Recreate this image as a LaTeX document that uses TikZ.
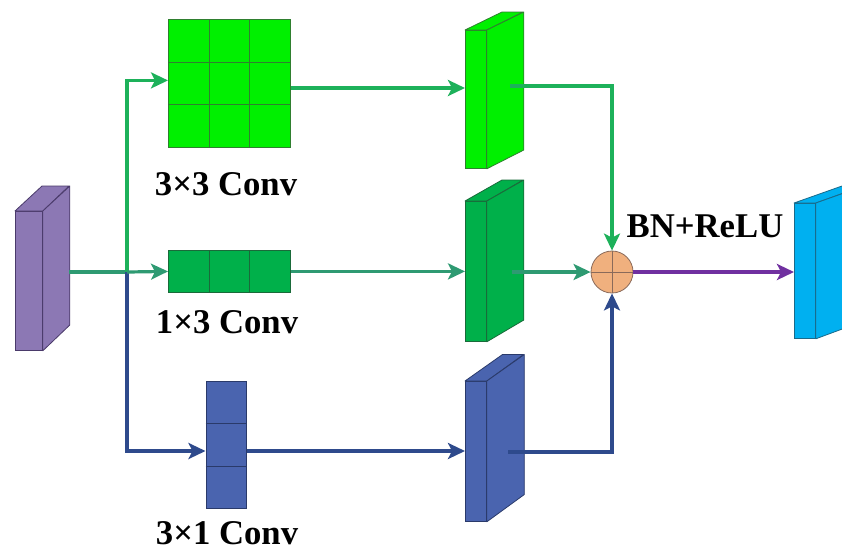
\documentclass[tikz,border=0pt]{standalone}
\usepackage{fontspec}
\setmainfont{Liberation Serif}
\usetikzlibrary{arrows.meta,calc}
\definecolor{cpurple}{HTML}{8C78B4}
\definecolor{cpurpleE}{HTML}{4A3A6A}
\definecolor{cgreenA}{HTML}{00F000}
\definecolor{cgreenAE}{HTML}{2F7F2F}
\definecolor{cgreenB}{HTML}{00B04A}
\definecolor{cgreenBE}{HTML}{1A6A3A}
\definecolor{cblue}{HTML}{4A64AF}
\definecolor{cblueE}{HTML}{2A3A6A}
\definecolor{csky}{HTML}{00B0F0}
\definecolor{cskyE}{HTML}{1A6A8A}
\definecolor{csum}{HTML}{F0B07E}
\definecolor{csumE}{HTML}{8A6A5A}
\definecolor{lteal}{HTML}{2E9A72}
\definecolor{lgreen}{HTML}{1DB15A}
\definecolor{lblue}{HTML}{2E4A8C}
\definecolor{lpurple}{HTML}{7030A0}
\newcommand\fblock[9]{%
  \node[fill=#8, draw=#9, line width=0.8pt, inner sep=0pt, minimum width=#4pt, minimum height=#5pt, anchor=north west] (#1) at (#2,#3) {};
  \filldraw[fill=#8, draw=#9, line width=0.8pt, line join=round] (#1.north west) -- ++(#6,#7) -- ++(#4,0) -- (#1.north east) -- cycle;
  \filldraw[fill=#8, draw=#9, line width=0.8pt, line join=round] (#1.north east) -- ++(#6,#7) -- ++(0,#5) -- (#1.south east) -- cycle;
}
\tikzset{
  conn/.style={line width=3.2pt, -{Stealth[length=17pt,width=16pt,inset=4pt]}},
  plain/.style={line width=3.2pt},
  lbl/.style={font=\fontsize{34.7}{40}\selectfont\bfseries, inner sep=0pt, anchor=base},
  kernel/.style={draw=#1, line width=0.8pt, inner sep=0pt, anchor=north west},
}
\begin{document}
\begin{tikzpicture}[x=1pt,y=-1pt]
\useasboundingbox (0,0) rectangle (842,550);
% blocks
\fblock{in}{15}{211}{27}{139}{27}{-25}{cpurple}{cpurpleE}
\fblock{g1}{465}{30}{21}{138}{37}{-18}{cgreenA}{cgreenAE}
\fblock{g2}{465}{201}{21}{140}{37}{-21}{cgreenB}{cgreenBE}
\fblock{b1}{465}{381}{21}{140}{37.5}{-26.5}{cblue}{cblueE}
\fblock{out}{794}{203}{21}{135}{48}{-17}{csky}{cskyE}
% kernels
\node[kernel=cgreenAE, fill=cgreenA, minimum width=122pt, minimum height=128pt] (k33) at (168,19) {};
\foreach \t in {1,2}{
  \draw[cgreenAE, line width=0.8pt] ($(k33.north west)!\t/3!(k33.north east)$) -- ($(k33.south west)!\t/3!(k33.south east)$);
  \draw[cgreenAE, line width=0.8pt] ($(k33.north west)!\t/3!(k33.south west)$) -- ($(k33.north east)!\t/3!(k33.south east)$);
}
\node[kernel=cgreenBE, fill=cgreenB, minimum width=122pt, minimum height=42pt] (k13) at (168,250) {};
\foreach \t in {1,2}
  \draw[cgreenBE, line width=0.8pt] ($(k13.north west)!\t/3!(k13.north east)$) -- ($(k13.south west)!\t/3!(k13.south east)$);
\node[kernel=cblueE, fill=cblue, minimum width=40.5pt, minimum height=127pt] (k31) at (205.5,381) {};
\foreach \t in {1,2}
  \draw[cblueE, line width=0.8pt] ($(k31.north west)!\t/3!(k31.south west)$) -- ($(k31.north east)!\t/3!(k31.south east)$);
% sum
\node[circle, fill=csum, draw=csumE, line width=0.8pt, minimum size=42pt, inner sep=0pt] (sum) at (612,272) {};
\draw[csumE, line width=0.6pt] (sum.north) -- (sum.south) (sum.west) -- (sum.east);
% labels
\node[lbl] (l33) at (226,195) {3×3 Conv};
\node[lbl] (l13) at (227,333) {1×3 Conv};
\node[lbl] (l31) at (227,544) {3×1 Conv};
\node[lbl] (lbn) at (705,237) {BN+ReLU};
% connectors
\coordinate (inout) at (69,272);
\coordinate (split) at (127,272);
\coordinate (r1) at (0,88);
\coordinate (r3) at (0,451);
\coordinate (g1o) at (510,86);
\coordinate (g2o) at (512,272);
\coordinate (b1o) at (508,452);
\draw[plain, lteal] (inout) -- (split);
\draw[conn, lgreen] (split) |- ([yshift=3pt]k33.west);
\draw[conn, lblue] (split) |- (k31.west |- r3);
\draw[conn, lteal] (split) -- (k13.west);
\draw[conn, lgreen] (k33.east |- r1) -- (g1.west |- r1);
\draw[conn, lteal] (k13.east) -- (g2.west |- k13.east);
\draw[conn, lblue] (k31.east |- r3) -- (b1.west |- r3);
\draw[conn, lgreen] (g1o) -| (sum.north);
\draw[conn, lteal] (g2o) -- (sum.west);
\draw[conn, lblue] (b1o) -| (sum.south);
\draw[conn, lpurple] (sum.east) -- (out.west |- sum.east);
\end{tikzpicture}
\end{document}
